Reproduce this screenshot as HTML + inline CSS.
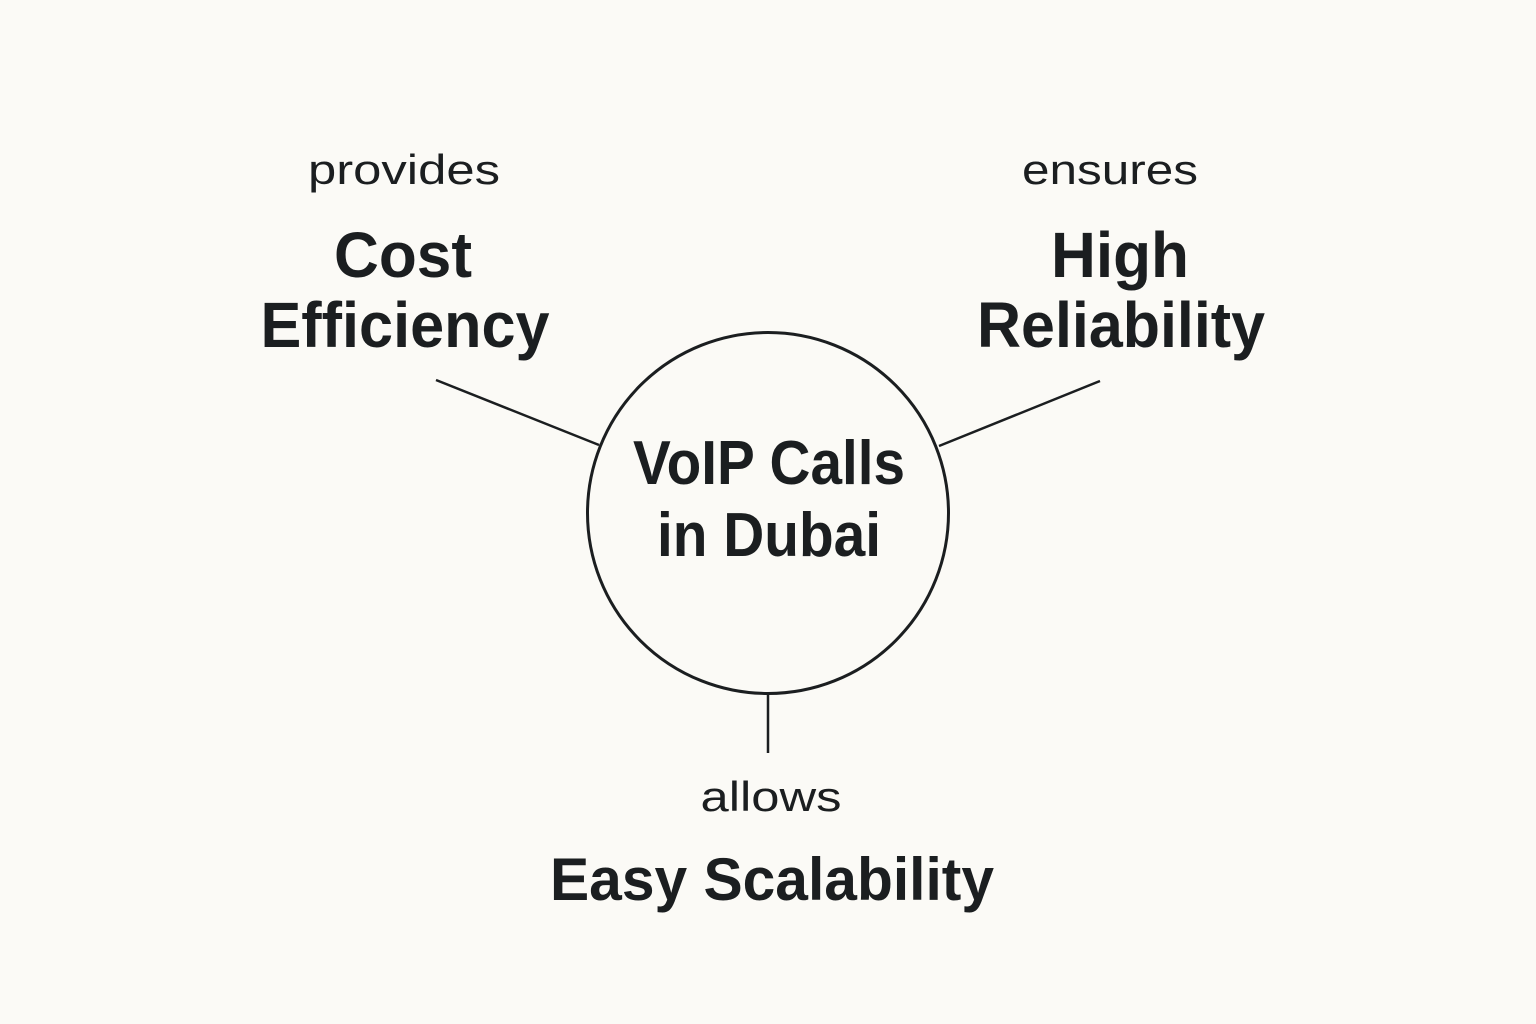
<!DOCTYPE html>
<html><head><meta charset="utf-8"><style>
html,body{margin:0;padding:0;background:#fbfaf6;}
svg{display:block}
text{font-family:"Liberation Sans",Arial,sans-serif;fill:#1b1e20}
.b{font-weight:bold}
</style></head><body>
<svg width="1536" height="1024" viewBox="0 0 1536 1024" xmlns="http://www.w3.org/2000/svg">
<rect width="1536" height="1024" fill="#fbfaf6"/>
<circle cx="768" cy="513" r="180.5" fill="none" stroke="#1b1e20" stroke-width="3"/>
<line x1="436" y1="380" x2="599" y2="445" stroke="#1b1e20" stroke-width="2.5"/>
<line x1="1100" y1="381" x2="939" y2="446" stroke="#1b1e20" stroke-width="2.5"/>
<line x1="768" y1="693" x2="768" y2="753" stroke="#1b1e20" stroke-width="2.5"/>

<text x="404" y="184" font-size="42" text-anchor="middle" textLength="192" lengthAdjust="spacingAndGlyphs">provides</text>
<text class="b" x="403" y="277" font-size="64" text-anchor="middle" textLength="138" lengthAdjust="spacingAndGlyphs">Cost</text>
<text class="b" x="405" y="347" font-size="64" text-anchor="middle" textLength="289" lengthAdjust="spacingAndGlyphs">Efficiency</text>

<text x="1110" y="184" font-size="42" text-anchor="middle" textLength="176" lengthAdjust="spacingAndGlyphs">ensures</text>
<text class="b" x="1120" y="277" font-size="64" text-anchor="middle" textLength="138" lengthAdjust="spacingAndGlyphs">High</text>
<text class="b" x="1121" y="347" font-size="64" text-anchor="middle" textLength="288" lengthAdjust="spacingAndGlyphs">Reliability</text>

<text class="b" x="769" y="484" font-size="62" text-anchor="middle" textLength="272" lengthAdjust="spacingAndGlyphs">VoIP Calls</text>
<text class="b" x="769" y="556" font-size="62" text-anchor="middle" textLength="224" lengthAdjust="spacingAndGlyphs">in Dubai</text>

<text x="771" y="811" font-size="42" text-anchor="middle" textLength="141" lengthAdjust="spacingAndGlyphs">allows</text>
<text class="b" x="772" y="900" font-size="60" text-anchor="middle" textLength="444" lengthAdjust="spacingAndGlyphs">Easy Scalability</text>
</svg>
</body></html>
